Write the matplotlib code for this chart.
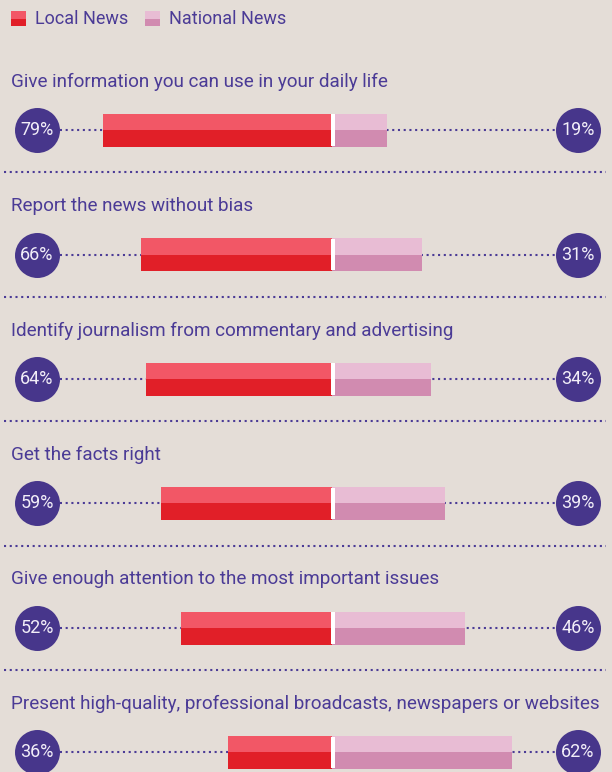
import matplotlib
matplotlib.use("Agg")
import matplotlib.pyplot as plt
from matplotlib.patches import Rectangle
import numpy as np

categories = [
    "Give information you can use in your daily life",
    "Report the news without bias",
    "Identify journalism from commentary and advertising",
    "Get the facts right",
    "Give enough attention to the most important issues",
    "Present high-quality, professional broadcasts, newspapers or websites",
]
local_news = [79, 66, 64, 59, 52, 36]
national_news = [19, 31, 34, 39, 46, 62]
series_names = ["Local News", "National News"]

BG = "#e4ddd7"
PURPLE = "#4b3b96"
CIRCLE = "#47368b"
LOCAL_TOP, LOCAL_BOT = "#f25766", "#e11f28"
NAT_TOP, NAT_BOT = "#e8bcd4", "#d18bb0"

W, H = 612, 772
fig = plt.figure(figsize=(W / 100, H / 100), dpi=100, facecolor=BG)
ax = fig.add_axes([0, 0, 1, 1], facecolor=BG)

PX = 2.9          # pixels per percent
CX = 332          # center pixel
ROW = 124.5       # pixels per row
Y0 = 130          # first bar center pixel
ax.set_xlim(-CX / PX, (W - CX) / PX)
ax.set_ylim((H - Y0) / ROW, -Y0 / ROW)
ax.axis("off")

font = ["Roboto", "DejaVu Sans"]
n = len(categories)
y = np.arange(n)
bh = 33 / ROW
left_c = (37 - CX) / PX
right_c = (578 - CX) / PX
dots = (0, (1.0, 1.75))

for i in range(n):
    ax.plot([left_c, right_c], [i, i], linestyle=dots, color=PURPLE,
            lw=1.5, zorder=1)
    ax.text(-CX / PX + 11 / PX, i - 48.5 / ROW, categories[i], color=PURPLE,
            fontsize=13.6, family=font, va="center", ha="left")
    if i < n - 1:
        ax.plot([-CX / PX + 4 / PX, (W - CX) / PX - 6 / PX], [i + 42 / ROW] * 2,
                linestyle=dots, color=PURPLE, lw=1.5, zorder=1)

loc = -np.array(local_news)
nat = np.array(national_news)
ax.barh(y - bh / 4, loc, height=bh / 2, color=LOCAL_TOP, zorder=2)
ax.barh(y + bh / 4, loc, height=bh / 2, color=LOCAL_BOT, zorder=2)
ax.barh(y - bh / 4, nat, height=bh / 2, color=NAT_TOP, zorder=2)
ax.barh(y + bh / 4, nat, height=bh / 2, color=NAT_BOT, zorder=2)
ax.barh(y, 4.5 / PX, left=-1.5 / PX, height=bh * 0.95, color="white", zorder=3)

ms = (45 * 0.72) ** 2
ax.scatter([left_c] * n, y, s=ms, color=CIRCLE, zorder=4, linewidths=0)
ax.scatter([right_c] * n, y, s=ms, color=CIRCLE, zorder=4, linewidths=0)
for i in range(n):
    ax.text(left_c, i, f"{local_news[i]}%", color="#f2eef8", fontsize=13,
            family=font, ha="center", va="center", zorder=5)
    ax.text(right_c, i, f"{national_news[i]}%", color="#f2eef8", fontsize=13,
            family=font, ha="center", va="center", zorder=5)

# legend
lax = fig.add_axes([0, 0, 1, 1], facecolor="none")
lax.set_xlim(0, W)
lax.set_ylim(H, 0)
lax.axis("off")
for x0, (ct, cb), name in [(11, (LOCAL_TOP, LOCAL_BOT), series_names[0]),
                           (145, (NAT_TOP, NAT_BOT), series_names[1])]:
    lax.add_patch(Rectangle((x0, 11), 15, 7.5, color=ct, lw=0))
    lax.add_patch(Rectangle((x0, 18.5), 15, 7.5, color=cb, lw=0))
    lax.text(x0 + 24, 19.5, name, color=PURPLE, fontsize=13, family=font,
             va="center", ha="left")

fig.savefig("out.png", dpi=100, facecolor=BG)
